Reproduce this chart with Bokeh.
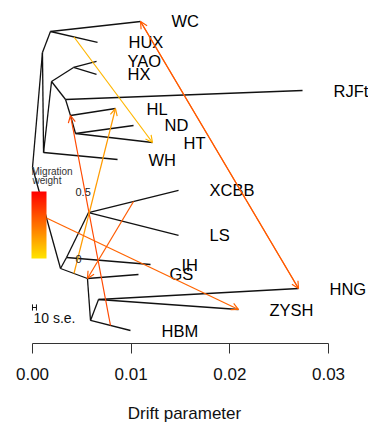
from bokeh.plotting import figure
from bokeh.models import (Range1d, FixedTicker, NumeralTickFormatter, ColumnDataSource,
                          Arrow, OpenHead, ColorBar, LinearColorMapper)
from bokeh.core.properties import value
from bokeh.embed import file_html
from bokeh.resources import INLINE

# ---------------- data ----------------
# tree nodes: drift parameter (x) and vertical plotting position (y)
node_names = ["R", "A", "B", "C", "D", "E", "F", "M", "N", "O", "I", "H", "G", "J", "K",
              "WC", "HUX", "YAO", "HX", "RJFt", "HL", "ND", "HT", "WH",
              "XCBB", "LS", "IH", "GS", "HBM", "HNG", "ZYSH"]
node_drift = [0.0, 0.00101, 0.00284, 0.00182, 0.00112, 0.00193, 0.00416, 0.00335, 0.00385,
              0.00436, 0.00345, 0.00568, 0.00557, 0.00588, 0.00669,
              0.01095, 0.00659, 0.00649, 0.00649, 0.02737, 0.00841, 0.01024, 0.01216, 0.00862,
              0.01480, 0.01480, 0.01196, 0.01074, 0.00993, 0.02696, 0.02088]
node_ypos = [0.5131, 0.8484, 0.2187, 0.9096, 0.5569, 0.7638, 0.8047, 0.7114, 0.6647,
             0.6122, 0.2507, 0.3819, 0.1895, 0.0671, 0.1283,
             0.9388, 0.8776, 0.8222, 0.7843, 0.7376, 0.6851, 0.6356, 0.5860, 0.5364,
             0.4461, 0.3149, 0.2303, 0.2012, 0.0379, 0.1603, 0.0991]

edge_parent = ["R", "R", "A", "A", "C", "C", "D", "D", "E", "E", "F", "F", "M", "M",
               "N", "N", "O", "O", "B", "B", "I", "I", "H", "H", "G", "G", "J", "J", "K", "K"]
edge_child = ["A", "B", "C", "D", "WC", "HUX", "E", "WH", "F", "M", "YAO", "HX", "RJFt", "N",
              "HL", "O", "ND", "HT", "I", "G", "H", "IH", "XCBB", "LS", "GS", "J", "K", "HBM",
              "HNG", "ZYSH"]

leaf_names = ["WC", "HUX", "YAO", "HX", "RJFt", "HL", "ND", "HT", "WH",
              "XCBB", "LS", "IH", "GS", "HBM", "HNG", "ZYSH"]

# migration edges: source branch (given by its child node), fraction along it, target, weight
mig_src_branch = ["HUX", "HBM", "G", "B", "XCBB", "WC", "HNG"]
mig_src_frac = [0.5, 0.5, 0.5, 0.5, 0.5, 1.0, 1.0]
mig_target = ["HT", "N", "HL", "ZYSH", "G", "HNG", "WC"]
mig_weight = [0.10, 0.34, 0.16, 0.28, 0.30, 0.30, 0.30]

axis_ticks = [0.0, 0.01, 0.02, 0.03]
weight_ticks = [0.0, 0.5]
weight_low, weight_high = 0.0, 0.5

# ---------------- helpers ----------------
pos = {n: (x, y) for n, x, y in zip(node_names, node_drift, node_ypos)}
parent_of = {c: p for p, c in zip(edge_parent, edge_child)}

col_lo = (255, 228, 0)   # yellow (weight 0)
col_hi = (255, 0, 0)     # red (weight 0.5)


def weight_color(w):
    t = max(0.0, min(1.0, (w - weight_low) / (weight_high - weight_low)))
    r, g, b = (round(a + (c - a) * t) for a, c in zip(col_lo, col_hi))
    return "#%02x%02x%02x" % (r, g, b)


palette = [weight_color(weight_low + (weight_high - weight_low) * i / 99) for i in range(100)]

FONT_NAME = "Liberation Sans"
FONT = value(FONT_NAME)

p = figure(width=368, height=428,
           x_range=Range1d(-0.0032432, 0.0340541), y_range=Range1d(0, 1),
           output_backend="svg", toolbar_location=None,
           min_border_left=0, min_border_right=0, min_border_top=0, min_border_bottom=85,
           y_axis_location=None)
p.grid.visible = False
p.outline_line_color = None
p.background_fill_color = "white"
p.border_fill_color = "white"

# tree
edges = ColumnDataSource(dict(
    x0=[pos[a][0] for a in edge_parent], y0=[pos[a][1] for a in edge_parent],
    x1=[pos[c][0] for c in edge_child], y1=[pos[c][1] for c in edge_child]))
p.segment("x0", "y0", "x1", "y1", source=edges, line_color="#111111", line_width=1.3)

# leaf labels
leaves = ColumnDataSource(dict(x=[pos[n][0] for n in leaf_names],
                               y=[pos[n][1] for n in leaf_names], name=leaf_names))
p.text("x", "y", text="name", source=leaves, x_offset=31, text_font=FONT,
       text_font_size="16.5px", text_baseline="middle", text_align="left", text_color="#000000")

# migration arrows
for src, frac, tgt, w in zip(mig_src_branch, mig_src_frac, mig_target, mig_weight):
    px_, py_ = pos[parent_of[src]]
    cx_, cy_ = pos[src]
    xs = px_ + (cx_ - px_) * frac
    ys = py_ + (cy_ - py_) * frac
    xe, ye = pos[tgt]
    c = weight_color(w)
    p.add_layout(Arrow(x_start=xs, y_start=ys, x_end=xe, y_end=ye,
                       line_color=c, line_width=1.2,
                       end=OpenHead(size=7, line_color=c, line_width=1.2)))

# migration weight colour bar
mapper = LinearColorMapper(palette=palette, low=weight_low, high=weight_high)
cb = ColorBar(color_mapper=mapper, location=(31, 85), width=15, height=67,
              orientation="vertical", ticker=FixedTicker(ticks=weight_ticks),
              major_label_text_font=FONT_NAME, major_label_text_font_size="11px",
              major_label_text_color="#222222", label_standoff=29,
              major_tick_line_color=None, minor_tick_line_color=None,
              bar_line_color=None, border_line_color=None,
              background_fill_alpha=0, padding=0, margin=0, title=None)
p.add_layout(cb)

p.text(x=[-0.0001, 0.0], y=[0.5015, 0.4738], text=["Migration", "weight"], text_font=FONT,
       text_font_size="10px", text_baseline="middle", text_align="left", text_color="#333333")

# 10 s.e. scale bar
se_y = 0.105
p.segment(x0=[0.0], y0=[se_y], x1=[0.0004], y1=[se_y], line_color="#111111", line_width=1)
p.segment(x0=[0.0, 0.0004], y0=[se_y - 0.009, se_y - 0.009], x1=[0.0, 0.0004],
          y1=[se_y + 0.009, se_y + 0.009], line_color="#111111", line_width=1)
p.text(x=[0.0001], y=[0.0729], text=["10 s.e."], text_font=FONT, text_font_size="14px",
       text_baseline="middle", text_align="left", text_color="#111111")

# x axis
ax = p.xaxis[0]
ax.ticker = FixedTicker(ticks=axis_ticks)
ax.formatter = NumeralTickFormatter(format="0.00")
ax.bounds = (0, 0.03)
ax.axis_label = "Drift parameter"
ax.axis_label_text_font = FONT_NAME
ax.axis_label_text_font_size = "17px"
ax.axis_label_text_font_style = "normal"
ax.axis_label_text_color = "#111111"
ax.axis_label_standoff = 21
ax.major_label_text_font = FONT_NAME
ax.major_label_text_font_size = "17px"
ax.major_label_text_color = "#111111"
ax.major_label_standoff = 14
ax.major_tick_out = 10
ax.major_tick_in = 0
ax.minor_tick_line_color = None
ax.axis_line_color = "#333333"
ax.major_tick_line_color = "#333333"

open("out.html", "w").write(file_html(p, INLINE))
